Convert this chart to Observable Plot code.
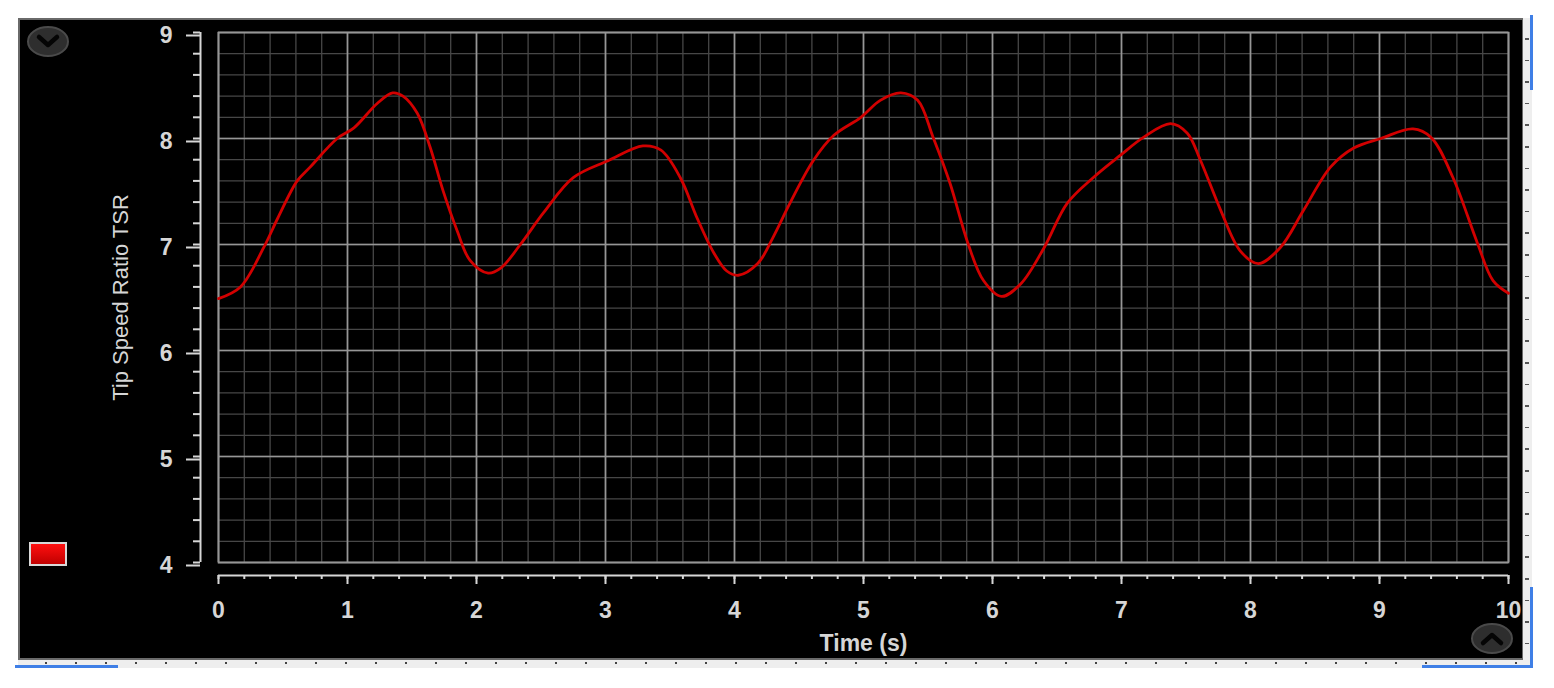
<!DOCTYPE html>
<html>
<head>
<meta charset="utf-8">
<script src="https://cdn.jsdelivr.net/npm/d3@7"></script>
<script src="https://cdn.jsdelivr.net/npm/@observablehq/plot@0.6"></script>
<style>
  html, body { margin: 0; padding: 0; background: #fff; }
  body { width: 1554px; height: 688px; position: relative; overflow: hidden; font-family: "Liberation Sans", Arial, sans-serif; }
  #panel { position: absolute; left: 20px; top: 20px; width: 1502px; height: 638px; background: #000; box-shadow: 0 0 0 2px #6a6a6a; }
  #panel svg { display: block; }
  .rulerR { position: absolute; left: 1523px; top: 18px; width: 9px; height: 650px; background-color: #eeeeee;
    background-image: repeating-linear-gradient(to bottom, transparent 0, transparent 20px, #555 20px, #555 21.6px);
    background-size: 4px 100%; background-repeat: no-repeat; background-position: 2px 0; }
  .rulerB { position: absolute; left: 18px; top: 660px; width: 1514px; height: 8px; background-color: #eeeeee;
    background-image: radial-gradient(circle, #444 1px, transparent 1.5px);
    background-size: 30px 8px; background-position: 13px -1px; }
  .blue { position: absolute; background: #3f7fe6; }
  .legend { position: absolute; left: 29px; top: 542px; width: 34px; height: 20px; border: 2px solid #d8d8d8;
    background: linear-gradient(to bottom, #ff1010, #c00000); }
  .btn { position: absolute; }
</style>
</head>
<body>
<div id="panel"></div>
<div class="rulerR"></div>
<div class="rulerB"></div>
<div class="blue" style="left:1530px; top:15px; width:3px; height:75px;"></div>
<div class="blue" style="left:1530px; top:587px; width:3px; height:81px;"></div>
<div class="blue" style="left:15px; top:665px; width:103px; height:3px;"></div>
<div class="blue" style="left:1422px; top:665px; width:111px; height:3px;"></div>
<div class="legend"></div>
<svg class="btn" style="left:26px; top:25px;" width="44" height="33" viewBox="0 0 44 33">
  <ellipse cx="22" cy="16.5" rx="20" ry="14.5" fill="#2e2e2e" stroke="#4a4a4a" stroke-width="2"/>
  <path d="M13 12 L22 20 L31 12" fill="none" stroke="#050505" stroke-width="4.5" stroke-linecap="round" stroke-linejoin="round"/>
</svg>
<svg class="btn" style="left:1470px; top:622px;" width="44" height="33" viewBox="0 0 44 33">
  <ellipse cx="22" cy="16.5" rx="20" ry="14.5" fill="#2e2e2e" stroke="#4a4a4a" stroke-width="2"/>
  <path d="M13 21 L22 13 L31 21" fill="none" stroke="#050505" stroke-width="4.5" stroke-linecap="round" stroke-linejoin="round"/>
</svg>
<script>
// Data
const time = [0, 0.17, 0.35, 0.46, 0.61, 0.71, 0.92, 1.05, 1.23, 1.35,
  1.43, 1.54, 1.64, 1.74, 1.85, 1.95, 2.09, 2.19, 2.34, 2.52,
  2.75, 3.02, 3.29, 3.43, 3.58, 3.71, 3.84, 3.94, 4.03, 4.18,
  4.30, 4.43, 4.61, 4.77, 4.98, 5.13, 5.29, 5.42, 5.54, 5.67,
  5.81, 5.93, 6.07, 6.22, 6.40, 6.58, 6.78, 6.99, 7.17, 7.38,
  7.51, 7.61, 7.77, 7.92, 8.06, 8.23, 8.41, 8.62, 8.80, 9.01,
  9.26, 9.40, 9.57, 9.76, 9.88, 10];
const tsr = [6.49, 6.6, 6.97, 7.25, 7.6, 7.73, 8.0, 8.1, 8.33, 8.43,
  8.4, 8.24, 7.92, 7.51, 7.13, 6.85, 6.73, 6.78, 7.0, 7.3,
  7.63, 7.79, 7.93, 7.89, 7.63, 7.25, 6.92, 6.75, 6.71, 6.82,
  7.07, 7.39, 7.79, 8.03, 8.2, 8.36, 8.43, 8.36, 8.01, 7.58,
  7.01, 6.66, 6.51, 6.63, 6.97, 7.39, 7.63, 7.84, 8.01, 8.14,
  8.05, 7.8, 7.32, 6.94, 6.82, 6.97, 7.32, 7.73, 7.91, 8.0,
  8.09, 8.01, 7.63, 7.01, 6.66, 6.54];
const xTicks = [0, 1, 2, 3, 4, 5, 6, 7, 8, 9, 10];
const yTicks = [4, 5, 6, 7, 8, 9];
const xMinor = d3.range(0, 10.001, 0.2).map(v => +v.toFixed(1));
const yMinor = d3.range(4, 9.001, 0.2).map(v => +v.toFixed(1));
const xLabel = "Time (s)";
const yLabel = "Tip Speed Ratio TSR";

const data = time.map((t, i) => ({t, v: tsr[i]}));
const axisColor = "#d6d6d6";

const chart = Plot.plot({
  width: 1502,
  height: 638,
  marginLeft: 198,
  marginRight: 14,
  marginTop: 12,
  marginBottom: 96,
  style: {background: "#000", color: axisColor, fontFamily: "'Liberation Sans', Arial, sans-serif", fontSize: "23px", fontWeight: "bold"},
  x: {domain: [0, 10]},
  y: {domain: [4, 9]},
  marks: [
    Plot.ruleX(xMinor, {stroke: "#474747", strokeWidth: 1.3}),
    Plot.ruleY(yMinor, {stroke: "#474747", strokeWidth: 1.3}),
    Plot.ruleX(xTicks, {stroke: "#969696", strokeWidth: 1.7}),
    Plot.ruleY(yTicks, {stroke: "#969696", strokeWidth: 1.7}),
    Plot.frame({stroke: "#969696", strokeWidth: 1.7}),
    Plot.line(data, {x: "t", y: "v", curve: "catmull-rom", stroke: "#d20000", strokeWidth: 2.8}),
    // y axis
    Plot.ruleX([0], {y1: 4, y2: 9, dx: -18, stroke: axisColor, strokeWidth: 2}),
    Plot.axisY(yTicks, {tickSize: 14, tickPadding: 14, dx: -18, dy: 3, label: null, strokeWidth: 2, tickFormat: d => String(d)}),
    Plot.axisY(yMinor, {tickSize: 7, dx: -18, label: null, strokeWidth: 2, tickFormat: () => ""}),
    // x axis
    Plot.ruleY([4], {x1: 0, x2: 10, dy: 13, stroke: axisColor, strokeWidth: 2}),
    Plot.axisX(xTicks, {tickSize: 9, tickPadding: 17, dy: 13, label: null, strokeWidth: 2, tickFormat: d => String(d)}),
    Plot.axisX(xMinor, {tickSize: 4, dy: 13, label: null, strokeWidth: 2, tickFormat: () => ""}),
    Plot.text([xLabel], {frameAnchor: "bottom", dy: 81, textAnchor: "middle", lineAnchor: "middle", fontSize: 23, fontWeight: "bold", fill: axisColor}),
    Plot.text([yLabel], {frameAnchor: "left", dx: -98, rotate: -90, textAnchor: "middle", lineAnchor: "middle", fontSize: 22, fontWeight: "normal", fill: axisColor})
  ]
});
document.getElementById("panel").appendChild(chart);
</script>
</body>
</html>
